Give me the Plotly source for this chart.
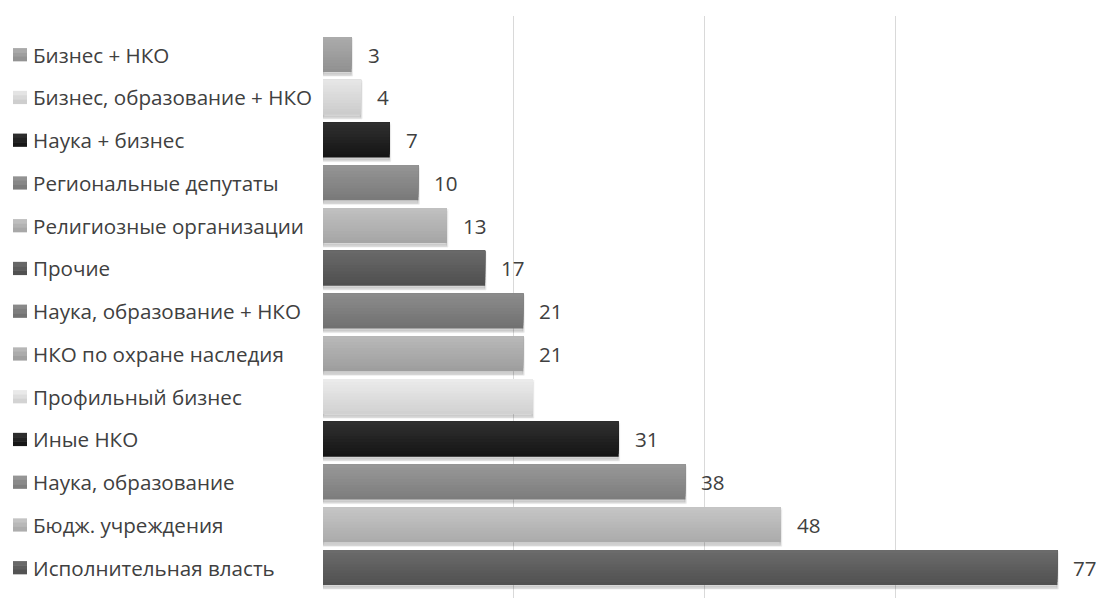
import plotly.graph_objects as go

# Categories listed top to bottom
categories = [
    "Бизнес + НКО",
    "Бизнес, образование + НКО",
    "Наука + бизнес",
    "Региональные депутаты",
    "Религиозные организации",
    "Прочие",
    "Наука, образование + НКО",
    "НКО по охране наследия",
    "Профильный бизнес",
    "Иные НКО",
    "Наука, образование",
    "Бюдж. учреждения",
    "Исполнительная власть",
]
values = [3, 4, 7, 10, 13, 17, 21, 21, 22, 31, 38, 48, 77]
# value labels shown next to bars (None = no label drawn)
value_labels = ["3", "4", "7", "10", "13", "17", "21", "21", None, "31", "38", "48", "77"]
# base grey level of each bar
grey_levels = [158, 217, 34, 135, 179, 92, 126, 171, 222, 34, 138, 184, 94]

x_ticks = [0, 20, 40, 60, 80]

W = 1098
H = 599
L, R, T, B = 323, 12, 16, 1
plot_w = W - L - R

BAR_W = 0.82      # bar thickness in category units
N_BANDS = 12      # vertical shading steps
SPREAD = 14       # grey delta between top and middle

TEXT_COLOR = "#404040"
FONT = "Open Sans"
FONT_SIZE = 20.6

ypos = list(range(len(categories)))


def grey(v):
    v = max(0, min(255, int(round(v))))
    return f"rgb({v},{v},{v})"


fig = go.Figure()

# soft drop shadow under each bar
for k, (dy, a) in enumerate([(0.09, 0.07), (0.06, 0.09)]):
    fig.add_trace(go.Bar(
        y=ypos, x=values, orientation="h",
        width=BAR_W, offset=-BAR_W / 2 + dy,
        marker=dict(color=f"rgba(0,0,0,{a})",
                    line=dict(width=2 + k, color=f"rgba(0,0,0,{a * 0.6})")),
        hoverinfo="skip", showlegend=False,
    ))

# shaded bars: nested layers anchored at the top edge, each shorter one lighter,
# giving a light-to-dark vertical gradient without seams
for j in range(N_BANDS):
    frac = (N_BANDS - j) / N_BANDS          # share of thickness covered
    t = (N_BANDS - j - 0.5) / N_BANDS        # position of the visible band
    shift = SPREAD * (1 - 2 * t)
    fig.add_trace(go.Bar(
        y=ypos, x=values, orientation="h",
        width=BAR_W * frac, offset=-BAR_W / 2,
        marker=dict(color=[grey(g + shift) for g in grey_levels], line=dict(width=0)),
        hovertemplate="%{x}<extra></extra>" if j == 0 else None,
        hoverinfo=None if j == 0 else "skip",
        showlegend=False,
    ))

annotations = []
shapes = []
for i, (cat, val, lab, g) in enumerate(zip(categories, values, value_labels, grey_levels)):
    annotations.append(dict(
        x=0, y=i, xref="paper", yref="y", xanchor="left", yanchor="middle",
        xshift=-(L - 31), text=cat, showarrow=False,
        font=dict(family=FONT, size=FONT_SIZE, color=TEXT_COLOR),
    ))
    if lab is not None:
        annotations.append(dict(
            x=val, y=i, xref="x", yref="y", xanchor="left", yanchor="middle",
            xshift=14, text=lab, showarrow=False,
            font=dict(family=FONT, size=FONT_SIZE, color=TEXT_COLOR),
        ))
    # legend-style colour square beside the category name
    sq = 0.15
    for s in range(3):
        y0 = i - sq + s * (2 * sq / 3)
        y1 = y0 + 2 * sq / 3
        shapes.append(dict(
            type="rect", xref="paper", yref="y",
            x0=(13 - L) / plot_w, x1=(27 - L) / plot_w,
            y0=y0, y1=y1 + 0.01, line=dict(width=0),
            fillcolor=grey(g + SPREAD * 0.8 * (1 - s)),
            layer="above",
        ))

px_per_row = 42.75
first_center = 54.5
y_top = -(first_center - T) / px_per_row
y_bot = (H - B - first_center) / px_per_row

fig.update_layout(
    width=W, height=H,
    margin=dict(l=L, r=R, t=T, b=B, pad=0),
    paper_bgcolor="white", plot_bgcolor="white",
    barmode="overlay",
    showlegend=False,
    annotations=annotations,
    shapes=shapes,
    xaxis=dict(
        range=[0, 80], tickvals=x_ticks, showticklabels=False,
        showgrid=True, gridcolor="#d9d9d9", gridwidth=1,
        zeroline=False, showline=False, ticks="",
    ),
    yaxis=dict(
        range=[y_bot, y_top], showticklabels=False, showgrid=False,
        zeroline=False, showline=False, ticks="",
    ),
    font=dict(family=FONT, color=TEXT_COLOR),
)

fig.write_html("out.html")
